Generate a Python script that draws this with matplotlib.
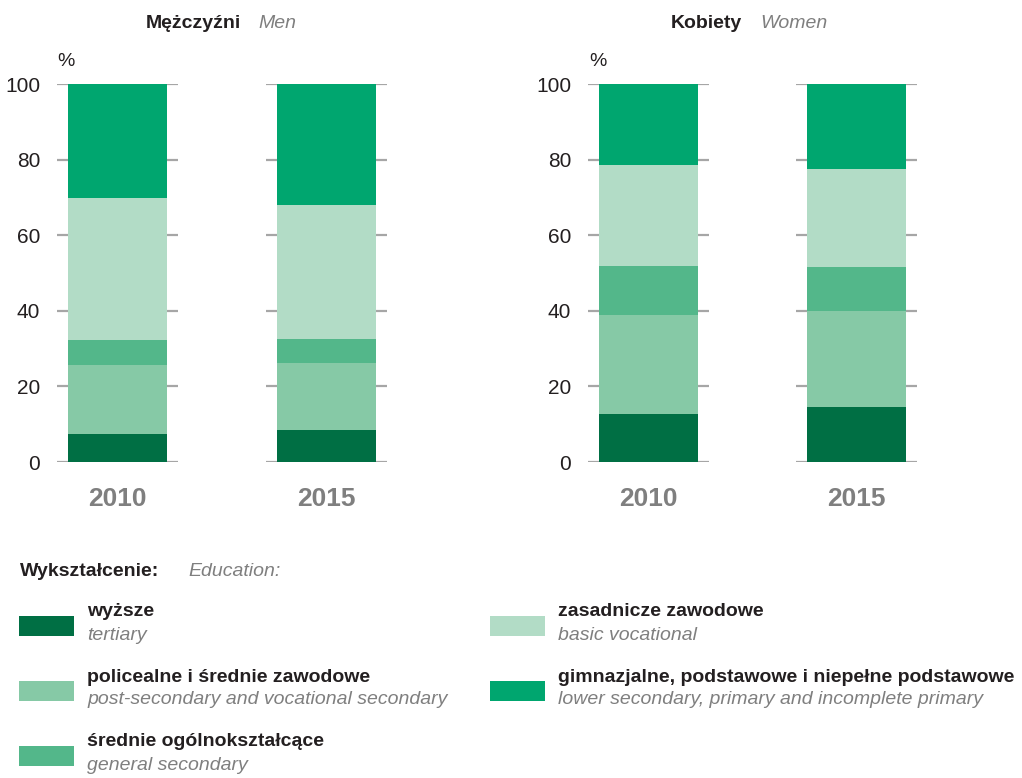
import matplotlib
matplotlib.use("Agg")
import matplotlib.pyplot as plt
from matplotlib import font_manager
from matplotlib.patches import Rectangle

names = {f.name for f in font_manager.fontManager.ttflist}
narrow = "Liberation Sans Narrow" if "Liberation Sans Narrow" in names else "Liberation Sans"
plt.rcParams['font.family'] = [narrow, 'DejaVu Sans']

years = ["2010", "2015"]
categories_pl = ["wyższe", "policealne i średnie zawodowe", "średnie ogólnokształcące",
                 "zasadnicze zawodowe", "gimnazjalne, podstawowe i niepełne podstawowe"]
categories_en = ["tertiary", "post-secondary and vocational secondary", "general secondary",
                 "basic vocational", "lower secondary, primary and incomplete primary"]
colors = ["#006f44", "#86c9a6", "#53b78a", "#b2dcc6", "#00a66f"]

# shares in %, order: tertiary, post-sec, general, basic voc, lower
men = {
    "2010": [7.4, 18.3, 6.6, 37.6, 30.1],
    "2015": [8.5, 17.7, 6.4, 35.5, 31.9],
}
women = {
    "2010": [12.7, 26.2, 13.0, 26.7, 21.4],
    "2015": [14.6, 25.4, 11.6, 25.9, 22.5],
}
yticks = [0, 20, 40, 60, 80, 100]

W, H = 1022, 778
fig = plt.figure(figsize=(W / 100, H / 100), dpi=100)


def px(x, y):
    return x / W, 1 - y / H


TXT = "#231f20"
GREY = "#7f7f7f"
bar_w = 0.474
pad = 0.053


def draw(ax, data):
    xs = range(len(years))
    for x in xs:
        ax.hlines(yticks, x - bar_w / 2 - pad, x + bar_w / 2 + pad,
                  color="#a6a6a6", lw=1.6, zorder=0)
    for x, yr in zip(xs, years):
        bottom = 0
        for v, c in zip(data[yr], colors):
            ax.bar(x, v, bottom=bottom, width=bar_w, color=c, zorder=2, linewidth=0)
            bottom += v
    ax.set_xlim(-0.29, 1.29)
    ax.set_ylim(0, 100)
    ax.set_yticks(yticks)
    ax.set_yticklabels([str(t) for t in yticks], fontsize=15, color=TXT)
    ax.set_xticks(list(xs))
    ax.set_xticklabels(years, fontsize=19, fontweight="bold", color=GREY)
    ax.tick_params(axis="y", length=0, pad=12)
    ax.tick_params(axis="x", length=0, pad=18)
    for s in ax.spines.values():
        s.set_visible(False)
    ax.patch.set_alpha(0)


bot = (H - 462) / H
hgt = 378 / H
ax1 = fig.add_axes([57 / W, bot, 330 / W, hgt])
ax2 = fig.add_axes([588 / W, bot, 329 / W, hgt])
draw(ax1, men)
draw(ax2, women)

# titles
fig.text(*px(241, 23), "Mężczyźni", ha="right", va="center", fontsize=14,
         fontweight="bold", color=TXT)
fig.text(*px(258, 23), "Men", ha="left", va="center", fontsize=14,
         style="italic", color=GREY)
fig.text(*px(742, 23), "Kobiety", ha="right", va="center", fontsize=14,
         fontweight="bold", color=TXT)
fig.text(*px(760, 23), "Women", ha="left", va="center", fontsize=14,
         style="italic", color=GREY)
fig.text(*px(57, 61), "%", ha="left", va="center", fontsize=14, color=TXT)
fig.text(*px(589, 61), "%", ha="left", va="center", fontsize=14, color=TXT)

# legend
fig.text(*px(20, 571), "Wykształcenie:", ha="left", va="center", fontsize=14,
         fontweight="bold", color=TXT)
fig.text(*px(188, 571), "Education:", ha="left", va="center", fontsize=14,
         style="italic", color=GREY)

slots = [(19, 626), (19, 691), (19, 756), (490, 626), (490, 691)]
for (lx, ly), c, pl, en in zip(slots, colors, categories_pl, categories_en):
    x0, y0 = px(lx, ly + 10)
    fig.patches.append(Rectangle((x0, y0), 55 / W, 20 / H, transform=fig.transFigure,
                                 facecolor=c, edgecolor="none"))
    fig.text(*px(lx + 68, ly - 14), pl, ha="left", va="center", fontsize=14,
             fontweight="bold", color=TXT)
    fig.text(*px(lx + 68, ly + 9), en, ha="left", va="center", fontsize=14,
             style="italic", color=GREY)

fig.savefig("out.png", dpi=100)
